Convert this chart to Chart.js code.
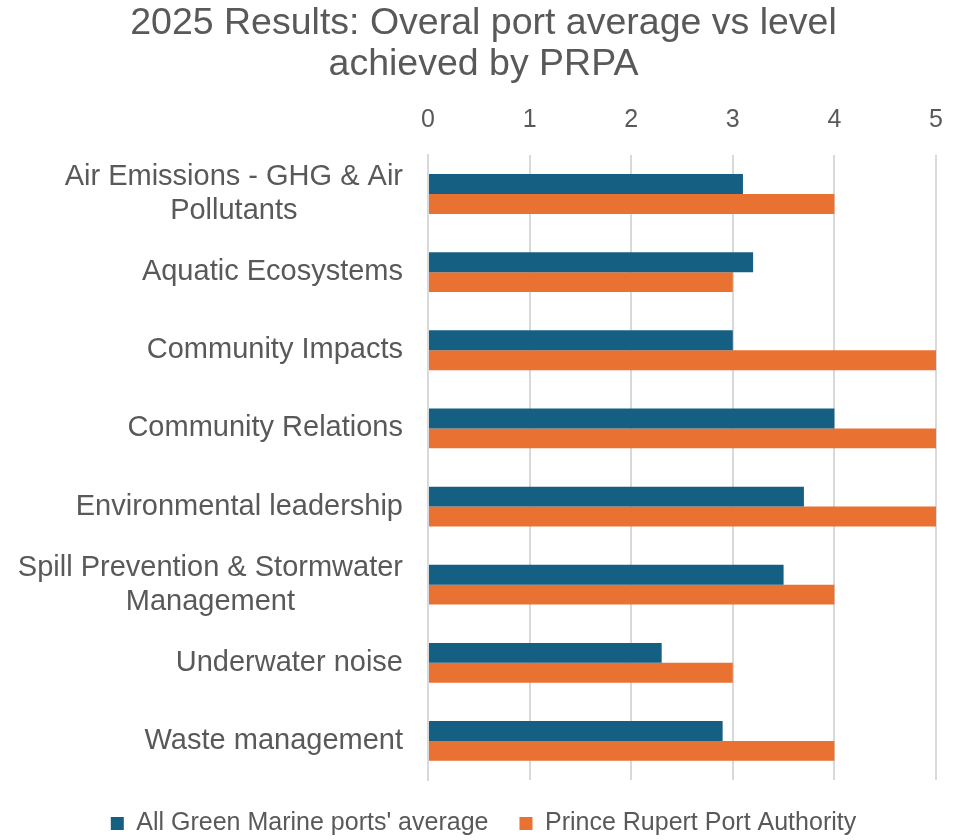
<!DOCTYPE html>
<html>
<head>
<meta charset="utf-8">
<script src="https://cdn.jsdelivr.net/npm/chart.js@4.4.1/dist/chart.umd.min.js"></script>
<style>
html,body{margin:0;padding:0;background:#fff;}
#wrap{width:967px;height:840px;position:relative;}
</style>
</head>
<body>
<div id="wrap"><canvas id="c" width="967" height="840"></canvas></div>
<script>
const categories = [
  ["Air Emissions - GHG & Air", "Pollutants"],
  "Aquatic Ecosystems",
  "Community Impacts",
  "Community Relations",
  "Environmental leadership",
  ["Spill Prevention & Stormwater", "Management"],
  "Underwater noise",
  "Waste management"
];
const seriesNames = ["All Green Marine ports' average", "Prince Rupert Port Authority"];
const greenMarineAvg = [3.1, 3.2, 3.0, 4.0, 3.7, 3.5, 2.3, 2.9];
const prpaLevel = [4, 3, 5, 5, 5, 4, 3, 4];
const xTicks = [0, 1, 2, 3, 4, 5];
const titleLines = ["2025 Results: Overal port average vs level", "achieved by PRPA"];

const textColor = "#595959";
const fontFamily = "'Liberation Sans', Arial, sans-serif";
const catFontSize = 29;
const catLineHeight = 34;
const catPadding = 25;

// Category labels: each block right-aligned to the axis, lines centred within the block
const categoryLabelPlugin = {
  id: "categoryLabels",
  afterDraw(chart) {
    const ctx = chart.ctx;
    const ys = chart.scales.y;
    ctx.save();
    ctx.font = catFontSize + "px " + fontFamily;
    ctx.fillStyle = textColor;
    ctx.textAlign = "center";
    ctx.textBaseline = "middle";
    const rightX = ys.right - catPadding;
    chart.data.labels.forEach((lab, i) => {
      const lines = Array.isArray(lab) ? lab : [lab];
      const w = Math.max(...lines.map(l => ctx.measureText(l).width));
      const cx = rightX - w / 2;
      const cy = ys.getPixelForTick(i);
      lines.forEach((l, j) => {
        ctx.fillText(l, cx, cy + (j - (lines.length - 1) / 2) * catLineHeight);
      });
    });
    ctx.restore();
  }
};

new Chart(document.getElementById("c"), {
  type: "bar",
  data: {
    labels: categories,
    datasets: [
      { label: seriesNames[0], data: greenMarineAvg, backgroundColor: "#156082", barPercentage: 1, categoryPercentage: 0.51 },
      { label: seriesNames[1], data: prpaLevel, backgroundColor: "#E97132", barPercentage: 1, categoryPercentage: 0.51 }
    ]
  },
  plugins: [categoryLabelPlugin],
  options: {
    indexAxis: "y",
    responsive: false,
    animation: false,
    devicePixelRatio: 1,
    layout: { padding: { left: 31, right: 31, top: 0, bottom: 0 } },
    plugins: {
      title: {
        display: true,
        text: titleLines,
        color: textColor,
        font: { family: fontFamily, size: 37.5, weight: "normal", lineHeight: 1.093 },
        padding: { top: 3.5, bottom: 0 }
      },
      legend: {
        position: "bottom",
        maxHeight: 60,
        labels: {
          color: textColor,
          font: { family: fontFamily, size: 25 },
          boxWidth: 13,
          boxHeight: 13,
          padding: 31
        }
      },
      tooltip: { enabled: false }
    },
    scales: {
      x: {
        position: "top",
        min: 0,
        max: 5,
        afterBuildTicks: (s) => { s.ticks = xTicks.map(v => ({ value: v })); },
        afterFit: (s) => { s.height = 69.5; },
        ticks: { color: textColor, font: { family: fontFamily, size: 25 }, padding: 20 },
        grid: { color: "#d9d9d9", lineWidth: 2, drawTicks: false },
        border: { display: false }
      },
      y: {
        afterFit: (s) => { s.width = 397; },
        ticks: { display: false },
        grid: { display: false, drawTicks: false },
        border: { display: true, color: "#d9d9d9", width: 2 }
      }
    }
  }
});
</script>
</body>
</html>
